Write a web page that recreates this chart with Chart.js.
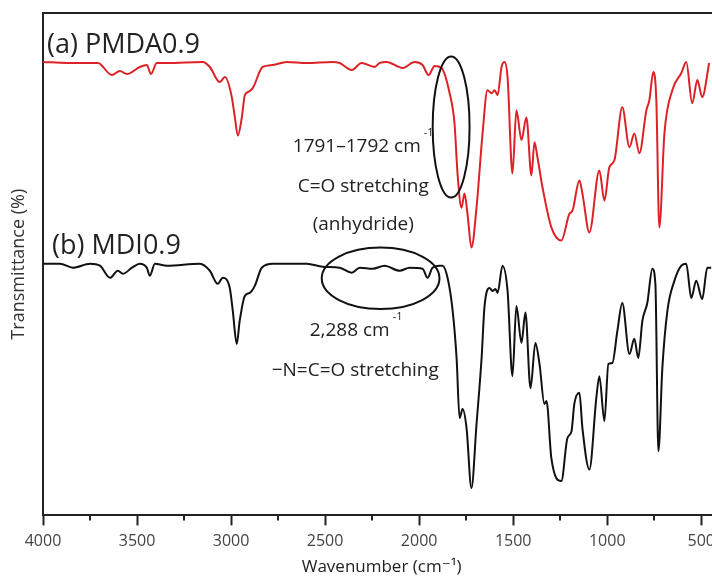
<!DOCTYPE html>
<html><head><meta charset="utf-8">
<style>
html,body{margin:0;padding:0;background:#fff;overflow:hidden;width:712px;height:577px}
#wrap{width:721px;height:577px;position:relative}
</style>
<script src="https://cdn.jsdelivr.net/npm/chart.js@4/dist/chart.umd.min.js"></script>
</head><body><div id="wrap"><canvas id="c" width="721" height="577"></canvas></div>
<script>
// ---- Data ----
const seriesLabels = ['(a) PMDA0.9', '(b) MDI0.9'];
const xTickValues = [4000, 3500, 3000, 2500, 2000, 1500, 1000, 500];
const xMinorTickValues = [3750, 3250, 2750, 2250, 1750, 1250, 750];

const wavenumberA = [4000,3873,3708,3634,3591,3554,3485,3448,3426,3395,3341,3150,3113,3060,3033,2996,2980,2964,2943,2927,2911,2885,2832,2778,2704,2598,2460,2423,2359,2306,2237,2210,2173,2088,2024,1982,1950,1918,1881,1838,1812,1796,1775,1759,1743,1722,1695,1663,1637,1615,1599,1583,1562,1546,1530,1504,1483,1456,1430,1403,1387,1371,1344,1297,1244,1201,1185,1148,1132,1095,1042,1015,989,962,920,882,856,829,792,776,755,739,723,696,654,606,580,548,521,495,458];
const transmittanceA = [90.3,90.1,90.1,87.7,88.5,87.9,89.3,89.7,87.9,90.1,90.1,90.3,89.3,86.3,87.3,83.3,79.3,75.7,79.3,83.7,84.3,85.1,89.3,89.7,90.3,90.1,90.3,90.1,88.7,90.1,89.3,90.1,90.3,89.1,90.3,89.7,87.7,89.5,89.1,84.1,78.1,68.2,61.4,64.2,60.2,53.5,61.4,76.1,84.7,84.1,84.7,83.7,89.3,90.3,87.3,68.2,80.7,74.8,79.3,67.8,74.4,71.4,65.4,57.5,54.9,60.2,60.8,66.8,64.2,56.5,68.8,62.8,69.4,70.8,81.3,73.4,76.1,72.2,80.7,82.7,88.3,82.7,57.5,76.1,84.7,88.1,90.3,82.1,86.7,83.3,90.1];

const wavenumberB = [4000,3910,3841,3750,3697,3644,3602,3575,3527,3485,3448,3432,3405,3341,3166,3113,3071,3044,3007,2991,2970,2954,2927,2901,2874,2837,2778,2598,2513,2423,2359,2316,2247,2184,2104,2051,1982,1955,1929,1892,1876,1849,1822,1801,1785,1769,1748,1722,1695,1668,1653,1626,1610,1594,1583,1557,1530,1504,1483,1456,1435,1408,1382,1360,1334,1323,1297,1244,1212,1190,1175,1148,1132,1095,1058,1042,1015,994,973,946,920,882,856,835,813,787,760,744,728,707,680,643,606,580,553,527,495,468,447];
const transmittanceB = [50.3,50.3,49.5,50.3,49.9,47.5,48.9,48.3,49.5,50.3,49.5,47.9,50.3,49.9,50.3,48.9,46.3,47.5,45.5,41.0,34.4,39.0,43.9,44.5,45.9,49.5,50.3,50.3,49.7,49.5,48.5,49.5,49.3,49.9,48.9,49.5,49.3,47.5,49.5,49.9,49.9,47.5,41.0,31.6,19.7,21.5,17.7,5.8,18.5,31.6,41.6,45.5,44.9,45.3,44.5,49.9,44.9,28.0,41.9,34.6,40.6,25.6,34.6,30.4,22.5,23.1,11.7,7.2,15.7,17.1,22.5,24.7,17.7,9.5,23.7,28.0,19.1,30.4,30.6,37.0,42.5,32.4,35.4,31.6,39.0,42.5,49.3,46.3,13.1,29.6,41.0,46.9,49.9,50.3,43.5,46.9,43.3,49.5,49.5];

// annotation texts, anchored in data units (wavenumber, transmittance)
const annotationTexts = [
  {text: seriesLabels[0], wn: 3979, t: 92.0, size: 27},
  {text: seriesLabels[1], wn: 3952, t: 52.3, size: 27},
  {text: '1791\u20131792 cm', sup: '-1', wn: 2672, t: 72.4, size: 19},
  {text: 'C=O stretching', wn: 2646, t: 64.6, size: 19},
  {text: '(anhydride)', wn: 2566, t: 56.9, size: 19},
  {text: '2,288 cm', sup: '-1', wn: 2582, t: 36.0, size: 19},
  {text: '\u2212N=C=O stretching', wn: 2784, t: 28.0, size: 19}
];
const annotationEllipses = [
  {wn: 1830, t: 77.4, rwn: 98, rt: 14.0},
  {wn: 2205, t: 47.4, rwn: 313, rt: 6.1}
];

const FONT = "'Open Sans', 'DejaVu Sans', sans-serif";
const AXIS = '#222';

const toPts = (xs, ys) => xs.map((x, i) => ({x: x, y: ys[i]}));

const overlayPlugin = {
  id: 'overlay',
  afterDraw(chart) {
    const {ctx, chartArea, scales: {x, y}} = chart;
    ctx.save();
    // top frame line
    ctx.strokeStyle = AXIS; ctx.lineWidth = 2;
    ctx.beginPath(); ctx.moveTo(chartArea.left - 1, chartArea.top); ctx.lineTo(chartArea.right, chartArea.top); ctx.stroke();
    // minor ticks
    xMinorTickValues.forEach(v => {
      const px = Math.round(x.getPixelForValue(v));
      ctx.beginPath(); ctx.moveTo(px, chartArea.bottom); ctx.lineTo(px, chartArea.bottom + 5); ctx.stroke();
    });
    // ellipses
    ctx.lineWidth = 2; ctx.strokeStyle = '#111';
    annotationEllipses.forEach(e => {
      const cx = x.getPixelForValue(e.wn), cy = y.getPixelForValue(e.t);
      const rx = Math.abs(x.getPixelForValue(e.wn + e.rwn) - cx);
      const ry = Math.abs(y.getPixelForValue(e.t + e.rt) - cy);
      ctx.beginPath(); ctx.ellipse(cx, cy, rx, ry, 0, 0, Math.PI * 2); ctx.stroke();
    });
    // texts
    ctx.fillStyle = '#222'; ctx.textBaseline = 'alphabetic'; ctx.textAlign = 'left';
    annotationTexts.forEach(a => {
      const px = x.getPixelForValue(a.wn), py = y.getPixelForValue(a.t);
      ctx.font = a.size + 'px ' + FONT;
      ctx.fillText(a.text, px, py);
      if (a.sup) {
        const w = ctx.measureText(a.text).width;
        ctx.font = '11px ' + FONT;
        ctx.fillText(a.sup, px + w + 3, py - 16);
      }
    });
    ctx.restore();
  }
};

new Chart(document.getElementById('c'), {
  type: 'line',
  data: {
    datasets: [
      {label: seriesLabels[0], data: toPts(wavenumberA, transmittanceA), borderColor: '#dc2226', borderWidth: 2, pointRadius: 0, fill: false, cubicInterpolationMode: 'monotone'},
      {label: seriesLabels[1], data: toPts(wavenumberB, transmittanceB), borderColor: '#111', borderWidth: 2, pointRadius: 0, fill: false, cubicInterpolationMode: 'monotone'}
    ]
  },
  options: {
    responsive: false, animation: false, devicePixelRatio: 1,
    layout: {padding: {top: 13, right: 0, bottom: 0, left: 0}},
    plugins: {legend: {display: false}, tooltip: {enabled: false}},
    scales: {
      x: {
        type: 'linear', reverse: true, min: 399, max: 4000,
        afterBuildTicks(scale) { scale.ticks = xTickValues.map(v => ({value: v})); },
        ticks: {stepSize: 500, includeBounds: false, autoSkip: false, maxRotation: 0, color: '#444', padding: 6,
          font: {family: FONT, size: 16}, callback: v => String(v)},
        grid: {display: true, drawOnChartArea: false, drawTicks: true, tickLength: 10, tickWidth: 2, tickColor: AXIS, color: AXIS},
        border: {display: true, color: AXIS, width: 2},
        title: {display: true, text: 'Wavenumber (cm\u207B\u00B9)', color: '#222', font: {family: FONT, size: 17}, padding: {top: 0, bottom: 0}}
      },
      y: {
        min: 0.4, max: 100,
        ticks: {display: false},
        grid: {display: true, drawOnChartArea: false, drawTicks: false, color: AXIS},
        border: {display: true, color: AXIS, width: 2},
        title: {display: true, text: 'Transmittance (%)', color: '#333', font: {family: FONT, size: 18}, padding: {top: 8, bottom: 0}},
        afterFit(scale) { scale.width = 43; }
      }
    }
  },
  plugins: [overlayPlugin]
});
</script>
</body></html>
